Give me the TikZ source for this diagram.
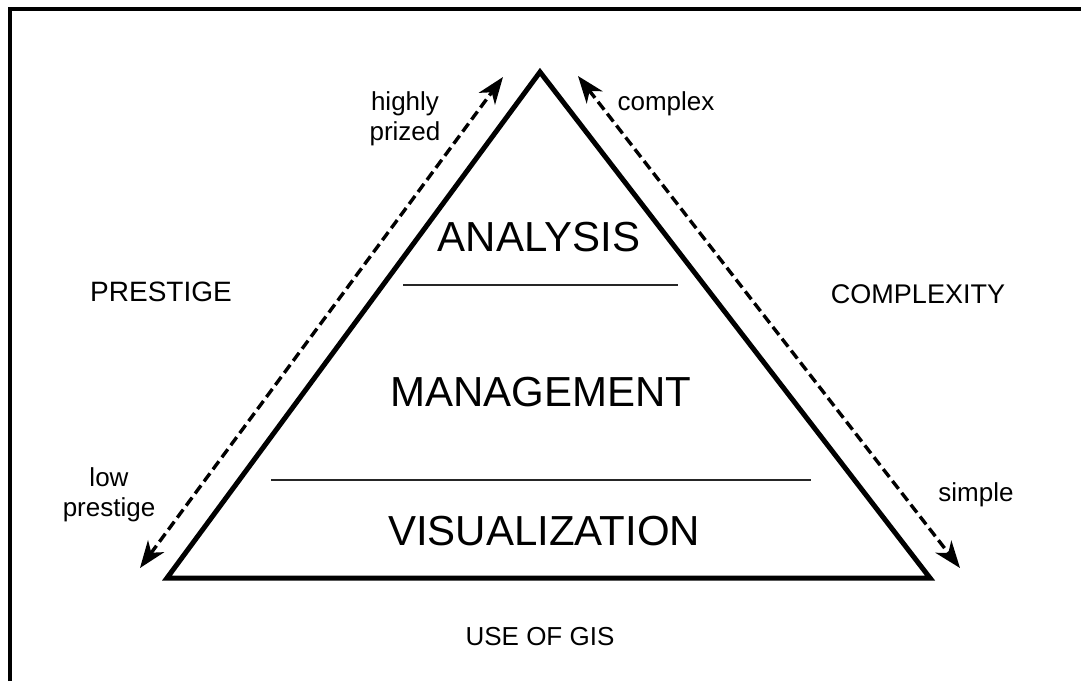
\documentclass[tikz,border=0pt]{standalone}
\usepackage{fontspec}
\setmainfont{Liberation Sans}
\usetikzlibrary{arrows.meta}
\begin{document}
\begin{tikzpicture}[x=1pt,y=-1pt,
  small/.style={font=\fontsize{26}{30}\selectfont, align=center, inner sep=0pt},
  big/.style={font=\fontsize{42}{48}\selectfont, inner sep=0pt},
  divider/.style={line width=1.4pt, black!85},
  dashedarrow/.style={line width=3.4pt, dash pattern=on 10pt off 5pt,
     {Stealth[length=27pt,width=20pt,inset=8pt]}-{Stealth[length=27pt,width=20pt,inset=8pt]}},
  tri/.style={line width=5pt, line join=miter}
]
\useasboundingbox (0,0) rectangle (1081,681);
\fill[white] (0,0) rectangle (1081,681);
% frame
\draw[line width=4pt] (10,681) -- (10,9) -- (1081,9);
% triangle
\coordinate (apex) at (540,72);
\coordinate (bl) at (167,578);
\coordinate (br) at (930,578);
\draw[tri] (apex) -- (bl) -- (br) -- cycle;
% dividers
\coordinate (d1a) at (403,285); \coordinate (d1b) at (678,285);
\coordinate (d2a) at (271,480); \coordinate (d2b) at (811,480);
\draw[divider] (d1a) -- (d1b);
\draw[divider] (d2a) -- (d2b);
% arrows
\coordinate (la) at (140,568); \coordinate (lb) at (503,77);
\coordinate (ra) at (578,76); \coordinate (rb) at (960,568);
\draw[dashedarrow] (la) -- (lb);
\draw[dashedarrow] (ra) -- (rb);
% labels
\node[big] (analysis) at (539,237) {ANALYSIS};
\node[big] (management) at (541,392) {MANAGEMENT};
\node[big] (visualization) at (544,531) {VISUALIZATION};
\node[small] (highly) at (405,119) {highly\\prized};
\node[small] (complex) at (666,104) {complex};
\node[font=\fontsize{28}{32}\selectfont, inner sep=0pt] (prestige) at (161,292) {PRESTIGE};
\node[font=\fontsize{27}{32}\selectfont, inner sep=0pt] (complexity) at (918,294) {COMPLEXITY};
\node[small] (low) at (109,495) {low\\prestige};
\node[small] (simple) at (976,495) {simple};
\node[small] (gis) at (540,637) {USE OF GIS};
\end{tikzpicture}
\end{document}
